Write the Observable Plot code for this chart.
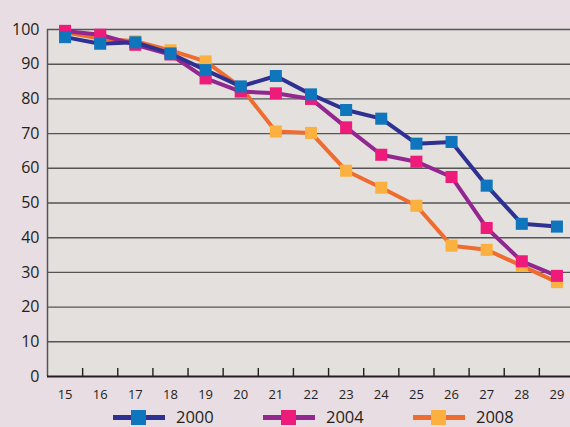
<!DOCTYPE html>
<html>
<head>
<meta charset="utf-8">
<script src="https://cdn.jsdelivr.net/npm/d3@7"></script>
<script src="https://cdn.jsdelivr.net/npm/@observablehq/plot@0.6"></script>
<style>
  html, body { margin: 0; padding: 0; background: #e8dde3; }
  body { width: 570px; height: 427px; overflow: hidden; font-family: "Open Sans", sans-serif; }
  #chart svg { display: block; }
  #legend { display: flex; height: 20px; align-items: center; padding-left: 113px; color: #231f20; font-size: 16.5px; line-height: 18px; }
  .item { display: flex; align-items: center; width: 150px; }
  .sw { position: relative; width: 52px; height: 5px; margin-right: 11px; }
  .sw .sq { position: absolute; left: 18px; top: -5px; width: 15px; height: 15px; }
</style>
</head>
<body>
<div id="chart"></div>
<div id="legend"></div>
<script>
const ages = [15, 16, 17, 18, 19, 20, 21, 22, 23, 24, 25, 26, 27, 28, 29];
const values2000 = [97.8, 95.9, 96.3, 93.1, 88.3, 83.6, 86.6, 81.3, 76.8, 74.3, 67.1, 67.6, 55.0, 44.0, 43.2];
const values2004 = [99.6, 98.5, 95.6, 92.8, 85.9, 82.1, 81.6, 80.0, 71.8, 63.9, 61.9, 57.5, 42.8, 33.2, 29.0];
const values2008 = [99.2, 97.4, 96.6, 94.0, 90.8, 83.4, 70.6, 70.2, 59.3, 54.4, 49.2, 37.7, 36.5, 31.9, 27.2];
const seriesNames = ["2000", "2004", "2008"];
const lineColors = ["#2e3192", "#92278f", "#ef6c2e"];
const markerColors = ["#0f75bc", "#ed1c7a", "#fbb040"];
const yTicks = [0, 10, 20, 30, 40, 50, 60, 70, 80, 90, 100];

const seriesValues = [values2000, values2004, values2008];
const series = seriesNames.map((name, i) => ({
  name, line: lineColors[i], marker: markerColors[i],
  data: ages.map((a, j) => ({age: a, value: seriesValues[i][j]}))
}));

const boundaries = ages.slice(0, -1).map(a => a + 0.5);
const drawOrder = [2, 1, 0];

const marks = [
  Plot.frame({fill: "#e4e0de", stroke: null}),
  Plot.gridY(yTicks.filter(t => t > 0), {stroke: "#555", strokeOpacity: 1, strokeWidth: 1.4}),
  Plot.axisY(yTicks, {tickSize: 0, tickPadding: 8, fontSize: 16, fill: "#231f20", label: null}),
  Plot.axisX(boundaries, {tickSize: -8, tickFormat: () => "", stroke: "#231f20", strokeWidth: 1.4, label: null}),
  Plot.axisX(ages, {tickSize: 0, tickPadding: 13, fontSize: 13, fill: "#231f20", label: null}),
  Plot.ruleX([ages[0] - 0.5], {stroke: "#555", strokeWidth: 1.5}),
  Plot.ruleY([0], {stroke: "#231f20", strokeWidth: 2})
];
for (const i of drawOrder) {
  const s = series[i];
  marks.push(Plot.line(s.data, {x: "age", y: "value", stroke: s.line, strokeWidth: 4}));
  marks.push(Plot.dot(s.data, {x: "age", y: "value", symbol: "square", r: 6.8, fill: s.marker, stroke: null}));
}

const chart = Plot.plot({
  width: 570,
  height: 407,
  marginTop: 29,
  marginBottom: 31,
  marginLeft: 47,
  marginRight: 0,
  style: {background: "transparent", fontFamily: "'Open Sans', sans-serif", overflow: "visible"},
  x: {type: "linear", domain: [ages[0] - 0.5, ages[ages.length - 1] + 0.5], range: [47, 574]},
  y: {domain: [0, 100]},
  marks
});
document.getElementById("chart").append(chart);

const legend = document.getElementById("legend");
for (const s of series) {
  const item = document.createElement("div");
  item.className = "item";
  item.innerHTML = `<div class="sw" style="background:${s.line}"><div class="sq" style="background:${s.marker}"></div></div><span>${s.name}</span>`;
  legend.append(item);
}
</script>
</body>
</html>
